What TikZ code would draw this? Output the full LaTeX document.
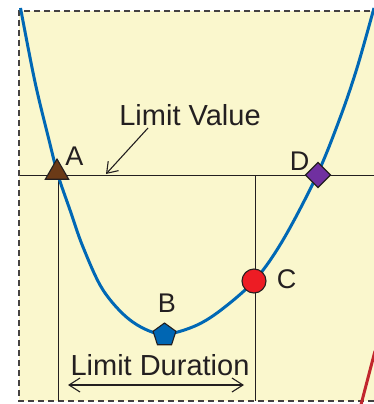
\documentclass[tikz,border=0pt]{standalone}
\usepackage{fontspec}
\setmainfont{Liberation Sans}
\usetikzlibrary{shapes.geometric,arrows.meta}
\definecolor{panel}{HTML}{FAF7CD}
\definecolor{curveblue}{HTML}{0068B5}
\definecolor{txt}{HTML}{231F20}
\definecolor{brownA}{HTML}{6B3A17}
\definecolor{purpleD}{HTML}{7030A0}
\definecolor{redC}{HTML}{ED1C24}
\definecolor{blueB}{HTML}{0066B3}
\definecolor{redline}{HTML}{C1272D}
\tikzset{
  border/.style={draw=txt!85, line width=1.3pt, dash pattern=on 6pt off 4pt},
  thinline/.style={draw=txt, line width=1pt},
  curveline/.style={draw=curveblue, line width=3pt},
  marker/.style={draw=txt, line width=1.1pt, inner sep=0pt, outer sep=0pt},
  biglabel/.style={text=txt, font=\fontsize{29}{32}\selectfont, inner sep=0pt, anchor=base},
  letterlabel/.style={text=txt, font=\fontsize{27}{30}\selectfont, inner sep=0pt, anchor=base},
  barb/.style={thinline, line width=1.1pt},
}
\begin{document}
\begin{tikzpicture}[x=1pt,y=-1pt]
\fill[white] (0,0) rectangle (374,404);
\useasboundingbox (0,0) rectangle (374,404);
\begin{scope}
\clip (0,0) rectangle (374,404);
% panel
\fill[panel] (19,11) rectangle (380,401);
\coordinate (tl) at (19,11);
\coordinate (bl) at (19,401);
\coordinate (tr) at (380,11);
\coordinate (br) at (380,401);
\draw[border] (tr) -- (tl) -- (bl) -- (br);
% limit value line and verticals
\coordinate (hl) at (20,175);
\coordinate (hr) at (380,175);
\coordinate (v1t) at (58.5,175);
\coordinate (v1b) at (58.5,401);
\coordinate (v2t) at (255,175);
\coordinate (v2b) at (255,401);
\draw[thinline] (hl) -- (hr);
\draw[thinline] (v1t) -- (v1b);
\draw[thinline] (v2t) -- (v2b);
% curve
\draw[curveline] plot[smooth, tension=0.55] coordinates {
  (20.5,8) (35,82) (49,140) (58,175) (70,210) (83,247) (103,290) (130,320)
  (160,334) (190,328) (217,313) (254,281) (283,240) (317,175) (340,118)
  (357,68) (374,8)};
% red line
\coordinate (r1) at (360.4,407);
\coordinate (r2) at (375,351);
\draw[draw=redline, line width=3pt] (r1) -- (r2);
\end{scope}
% markers
\node[marker, regular polygon, regular polygon sides=3, minimum size=27pt, fill=brownA] (A) at (57,172.5) {};
\node[marker, diamond, minimum width=25pt, minimum height=25pt, fill=purpleD] (D) at (318,175) {};
\node[marker, circle, minimum size=24pt, fill=redC] (C) at (254,281) {};
\node[marker, regular polygon, regular polygon sides=5, minimum size=24pt, fill=blueB] (B) at (164.5,335) {};
% letter labels
\node[letterlabel] (lA) at (74.5,165) {A};
\node[letterlabel] (lD) at (299.5,170) {D};
\node[letterlabel] (lC) at (286.5,288) {C};
\node[letterlabel] (lB) at (167,312) {B};
% limit value
\node[biglabel] (lv) at (190,125) {Limit Value};
\coordinate (lvs) at (148,128);
\coordinate (lve) at (106,174);
\draw[barb, -{Straight Barb[length=10pt,width=14pt,line width=1.1pt]}] (lvs) -- (lve);
% limit duration
\node[biglabel] (ld) at (160,375) {Limit Duration};
\coordinate (ldl) at (68,385);
\coordinate (ldr) at (244,385);
\draw[barb, {Straight Barb[length=11pt,width=14pt,line width=1.1pt]}-{Straight Barb[length=11pt,width=14pt,line width=1.1pt]}] (ldl) -- (ldr);
\end{tikzpicture}
\end{document}
